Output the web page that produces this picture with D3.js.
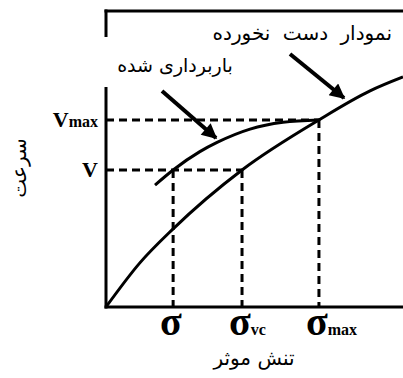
<!DOCTYPE html>
<html>
<head>
<meta charset="utf-8">
<script src="https://cdn.jsdelivr.net/npm/d3@7"></script>
<style>
  body { margin: 0; background: #fff; }
  svg { display: block; }
</style>
</head>
<body>
<script>
// conceptual chart: stress (x) vs velocity (y), both in 0..1 units
var intact = [[0, 0], [0.114, 0.149], [0.226, 0.264], [0.458, 0.463], [0.717, 0.632], [0.889, 0.73], [1.0, 0.777]];
var unloaded = [[0.165, 0.412], [0.226, 0.463], [0.316, 0.525], [0.374, 0.556], [0.485, 0.601], [0.596, 0.624], [0.717, 0.632]];

// reference points: [x, y, label, subscript]
var x_ticks = [[0.226, 0.463, 'σ', ''], [0.458, 0.463, 'σ', 'vc'], [0.717, 0.632, 'σ', 'max']];
var y_ticks = [[0.458, 0.463, 'V', ''], [0.717, 0.632, 'V', 'max']];

var x_title = 'تنش موثر';
var y_title = 'سرعت';
var label_intact = 'نمودار دست نخورده';
var label_unloaded = 'باربرداری شده';

var width = 403, height = 378;
var svg = d3.select('body').append('svg').attr('width', width).attr('height', height);

var x = d3.scaleLinear().domain([0, 1]).range([106, 403]);
var y = d3.scaleLinear().domain([0, 1]).range([307, 11]);

var ink = '#000';
var dash = '8,5';

// frame: left axis, bottom axis, top line
svg.append('line').attr('x1', x(0)).attr('x2', x(0)).attr('y1', y(1) - 1.5).attr('y2', y(0) + 1.5)
	.attr('stroke', ink).attr('stroke-width', 3);
svg.append('line').attr('x1', x(0) - 1.5).attr('x2', x(1)).attr('y1', y(0)).attr('y2', y(0))
	.attr('stroke', ink).attr('stroke-width', 3);
svg.append('line').attr('x1', x(0) - 1.5).attr('x2', x(1)).attr('y1', y(1)).attr('y2', y(1))
	.attr('stroke', ink).attr('stroke-width', 3);

// dashed guide lines
var guides = svg.append('g');
x_ticks.forEach(d => {
	guides.append('line').attr('x1', x(d[0])).attr('x2', x(d[0])).attr('y1', y(d[1])).attr('y2', y(0))
		.attr('stroke', ink).attr('stroke-width', 3).attr('stroke-dasharray', dash);
});
y_ticks.forEach(d => {
	guides.append('line').attr('x1', x(0)).attr('x2', x(d[0])).attr('y1', y(d[1])).attr('y2', y(d[1]))
		.attr('stroke', ink).attr('stroke-width', 3).attr('stroke-dasharray', dash);
});

// curves
var line = d3.line().x(d => x(d[0])).y(d => y(d[1])).curve(d3.curveMonotoneX);
svg.append('path').attr('d', line(intact)).attr('fill', 'none').attr('stroke', ink).attr('stroke-width', 3);
svg.append('path').attr('d', line(unloaded)).attr('fill', 'none').attr('stroke', ink).attr('stroke-width', 3);

// white box behind the unloaded label (it hides part of the axis)
svg.append('rect').attr('x', 100).attr('y', 37).attr('width', 145).attr('height', 50).attr('fill', '#fff');

// arrows
svg.append('defs').append('marker').attr('id', 'head')
	.attr('viewBox', '0 0 10 10').attr('refX', 9).attr('refY', 5)
	.attr('markerWidth', 4.4).attr('markerHeight', 3.8).attr('orient', 'auto')
	.attr('markerUnits', 'strokeWidth')
	.append('path').attr('d', 'M0,0 L10,5 L0,10 Z').attr('fill', ink);
svg.append('line').attr('x1', 290).attr('y1', 54).attr('x2', 344).attr('y2', 98)
	.attr('stroke', ink).attr('stroke-width', 4).attr('marker-end', 'url(#head)');
svg.append('line').attr('x1', 162).attr('y1', 91).attr('x2', 216).attr('y2', 138)
	.attr('stroke', ink).attr('stroke-width', 4).attr('marker-end', 'url(#head)');

// persian labels
var fa = 'DejaVu Sans, sans-serif';
svg.append('text').attr('x', 392).attr('y', 40).attr('text-anchor', 'end').attr('word-spacing', 6)
	.attr('font-family', fa).attr('font-size', 20).text(label_intact);
svg.append('text').attr('x', 175).attr('y', 72).attr('text-anchor', 'middle')
	.attr('font-family', fa).attr('font-size', 19).text(label_unloaded);
svg.append('text').attr('x', 254).attr('y', 365).attr('text-anchor', 'middle')
	.attr('font-family', fa).attr('font-size', 20).text(x_title);
svg.append('text').attr('transform', 'translate(26,' + 168 + ') rotate(-90)').attr('text-anchor', 'middle')
	.attr('font-family', fa).attr('font-size', 20).text(y_title);

// tick labels
var serif = 'Liberation Serif, Times New Roman, serif';
y_ticks.forEach(d => {
	var t = svg.append('text').attr('x', 98).attr('y', y(d[1]) + 7).attr('text-anchor', 'end')
		.attr('font-family', serif).attr('font-weight', 'bold');
	t.append('tspan').attr('font-size', 22).text(d[2]);
	if (d[3]) t.append('tspan').attr('font-size', 16).text(d[3]);
});
x_ticks.forEach(d => {
	var t = svg.append('text').attr('x', x(d[0]) - 13).attr('y', 335)
		.attr('font-family', serif).attr('font-weight', 'bold');
	t.append('tspan').attr('font-size', 40).text(d[2]);
	if (d[3]) t.append('tspan').attr('font-size', 16).text(d[3]);
});
</script>
</body>
</html>
